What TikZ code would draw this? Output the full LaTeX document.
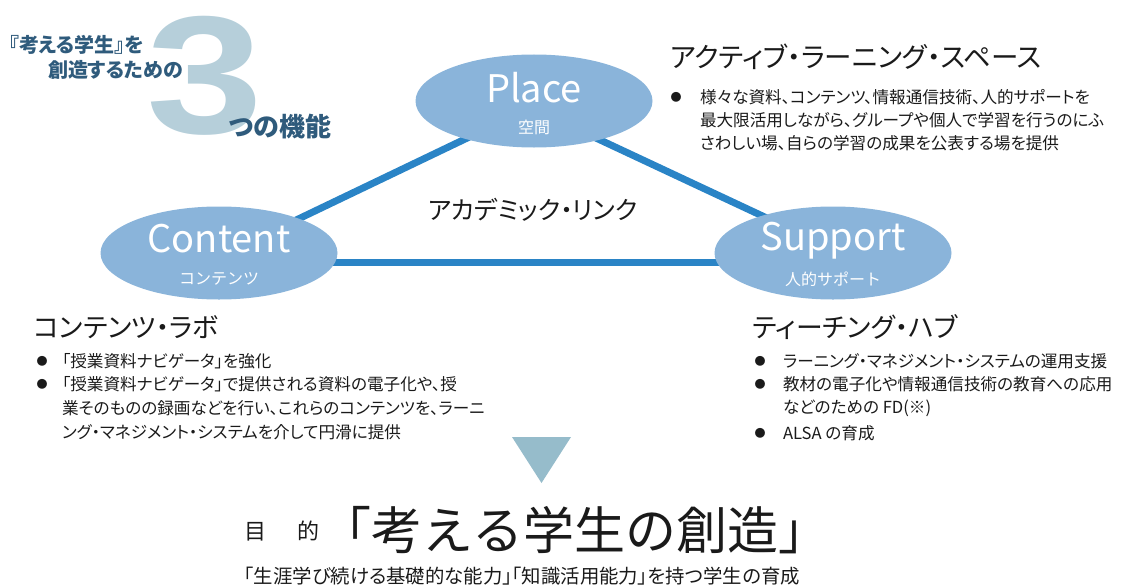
\documentclass[tikz,border=0pt]{standalone}
\usepackage{fontspec}
\setmainfont{Noto Sans CJK JP}
\newfontfamily\jp{Noto Sans CJK JP}
\newfontfamily\jpp[RawFeature=+palt]{Noto Sans CJK JP}
\newfontfamily\lib{Liberation Sans}
\usetikzlibrary{shapes.geometric,backgrounds}
\definecolor{blobfill}{HTML}{8AB4DA}
\definecolor{linkblue}{HTML}{2A84C6}
\definecolor{titleblue}{HTML}{2F5B7C}
\definecolor{threecol}{HTML}{B6CFDA}
\definecolor{tricol}{HTML}{96BCCB}
\definecolor{ink}{HTML}{1A1A1A}
\begin{document}
\begin{tikzpicture}[x=1pt,y=-1pt,
  every node/.style={inner sep=0pt,outer sep=0pt},
  blob/.style={ellipse,fill=blobfill,minimum width=237pt,minimum height=93pt},
  link/.style={draw=linkblue,line width=7pt},
  bigen/.style={text=white,font=\jp\fontsize{38}{40}\selectfont},
  smalljp/.style={text=white,font=\jp\fontsize{16}{18}\selectfont},
  head/.style={text=ink,anchor=west,font=\jpp\fontsize{26.8}{30}\selectfont},
  body/.style={text=ink,anchor=west,font=\jpp\fontsize{16.6}{20}\selectfont},
  bul/.style={text=ink,font=\jp\fontsize{11}{12}\selectfont},
  ttl/.style={text=titleblue,anchor=west,font=\jpp\bfseries\fontsize{20}{22}\selectfont}
]
\useasboundingbox (0,0) rectangle (1139,586);

% big 3 and title
\node[text=threecol,font=\lib\bfseries\fontsize{168}{170}\selectfont] (three) at (205,76) {\scalebox{1.25}[1]{3}};
\node[ttl] (t1) at (9,45) {『考える学生』を};
\node[ttl] (t2) at (48,70) {創造するための};
\node[ttl,font=\jpp\bfseries\fontsize{26}{28}\selectfont] (t3) at (229,127) {つの機能};

% ellipses
\node[blob] (place) at (534,101) {};
\node[blob] (content) at (219,253) {};
\node[blob] (support) at (833,253) {};
\begin{pgfonlayer}{background}
\draw[link] ([yshift=-4pt]content.center) -- ([yshift=-5pt]place.center);
\draw[link] ([yshift=-8pt]place.center) -- ([yshift=4pt]support.center);
\draw[link] ([yshift=-9pt]content.center) -- ([yshift=-9pt]support.center);
\end{pgfonlayer}
\node[bigen,anchor=base] (placeen) at (534,102) {Place};
\node[smalljp] (placejp) at (534,127) {空間};
\node[bigen,anchor=base] (contenten) at (219,252) {Content};
\node[smalljp] (contentjp) at (219,279) {コンテンツ};
\node[bigen,anchor=base] (supporten) at (833,250) {Support};
\node[smalljp] (supportjp) at (833,279) {人的サポート};

\node[head,anchor=center,font=\jpp\fontsize{25}{30}\selectfont] (link) at (533,210) {アカデミック・リンク};

% Place block
\node[head,font=\jpp\fontsize{27.5}{30}\selectfont] (h1) at (670,57) {アクティブ・ラーニング・スペース};
\node[bul] (p0) at (676,97) {●};
\node[body] (p1) at (700,97) {様々な資料、コンテンツ、情報通信技術、人的サポートを};
\node[body] (p2) at (700,120) {最大限活用しながら、グループや個人で学習を行うのにふ};
\node[body] (p3) at (700,143) {さわしい場、自らの学習の成果を公表する場を提供};

% Content block
\node[head] (h2) at (34,327) {コンテンツ・ラボ};
\node[bul] (c0) at (42,361) {●};
\node[body] (c1) at (62,361) {「授業資料ナビゲータ」を強化};
\node[bul] (c2b) at (42,384) {●};
\node[body] (c2) at (62,384) {「授業資料ナビゲータ」で提供される資料の電子化や、授};
\node[body] (c3) at (62,408) {業そのものの録画などを行い、これらのコンテンツを、ラーニ};
\node[body] (c4) at (62,432) {ング・マネジメント・システムを介して円滑に提供};

% Support block
\node[head] (h3) at (753,327) {ティーチング・ハブ};
\node[bul] (s0) at (760,361) {●};
\node[body] (s1) at (783,361) {ラーニング・マネジメント・システムの運用支援};
\node[bul] (s2b) at (760,384) {●};
\node[body] (s2) at (783,384) {教材の電子化や情報通信技術の教育への応用};
\node[body] (s3) at (783,408) {などのための FD(※)};
\node[bul] (s4b) at (760,433) {●};
\node[body] (s4) at (783,433) {ALSA の育成};

% arrow triangle
\fill[tricol] (512,437) -- (571,437) -- (541.5,483) -- cycle;

% goal
\node[text=ink,anchor=west,font=\jp\fontsize{22}{24}\selectfont] (mok) at (244,531) {目\hspace{32pt}的};
\node[text=ink,font=\jp\fontsize{51}{55}\selectfont] (goal) at (575,530) {「考える学生の創造」};
\node[text=ink,font=\jpp\fontsize{19.4}{21}\selectfont] (sub) at (522,576) {「生涯学び続ける基礎的な能力」「知識活用能力」を持つ学生の育成};
\end{tikzpicture}
\end{document}
